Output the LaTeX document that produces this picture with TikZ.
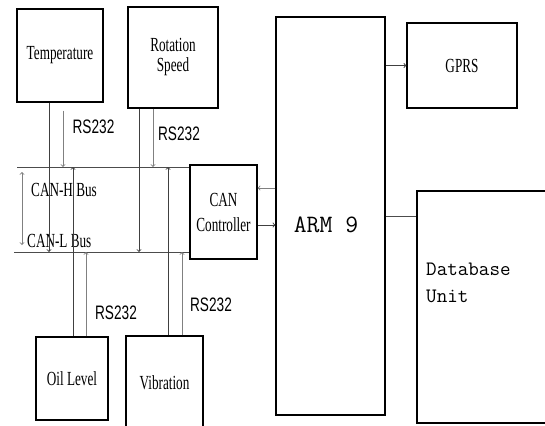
\documentclass[tikz,border=0pt]{standalone}
\usepackage{fontspec}
\setmainfont{Liberation Serif}
\newfontfamily\boxfont[FakeStretch=0.66]{Liberation Serif}
\newfontfamily\rsfont[FakeStretch=0.7]{Liberation Sans}

\begin{document}
\begin{tikzpicture}
[
	x=1pt,
	y=-1pt,
	box/.style={draw,line width=1.3pt,inner sep=0pt,align=center,font=\boxfont\fontsize{20}{20}\selectfont},
	bigtext/.style={inner sep=0pt,align=left,font=\ttfamily\fontsize{20.5}{27}\selectfont},
	rstext/.style={inner sep=0pt,font=\rsfont\fontsize{19.5}{19.5}\selectfont},
	bustext/.style={inner sep=0pt,anchor=west,font=\boxfont\fontsize{20}{17}\selectfont},
	bus/.style={black!70,line width=0.9pt},
	wire/.style={black!75,line width=0.9pt,->},
	rsline/.style={black!50,line width=0.9pt,->}
]

	\useasboundingbox (0,0) rectangle (545,425);

	% sensors
	\node[box,minimum width=86pt,minimum height=93pt] at (60,55.5) (temp) {Temperature};
	\node[box,minimum width=90pt,minimum height=101pt] at (173,57.5) (rot) {Rotation\\Speed};
	\node[box,minimum width=72pt,minimum height=83pt] at (72,378.5) (oil) {Oil Level};
	\node[box,minimum width=77pt,minimum height=94pt] at (164.5,383) (vib) {Vibration};

	% controller, processor, outputs
	\node[box,minimum width=67pt,minimum height=94pt,font=\boxfont\fontsize{20}{25}\selectfont] at (223.5,212) (canctl) {CAN\\Controller};
	\node[box,minimum width=109pt,minimum height=398pt] at (330.5,216) (arm) {};
	\node[bigtext,font=\ttfamily\fontsize{25}{25}\selectfont] at (326,225) (armlabel) {ARM 9};
	\node[box,minimum width=110pt,minimum height=85pt] at (462,65.5) (gprs) {GPRS};
	\node[box,minimum width=143pt,minimum height=232pt] at (488.5,307) (db) {};
	\node[bigtext,anchor=west] at (426,283) (dblabel) {Database\\Unit};

	% buses
	\coordinate (hbus) at (17,167);
	\coordinate (lbus) at (14,252);
	\draw[bus] (hbus) -- (canctl.west |- hbus);
	\draw[bus] (lbus) -- (canctl.west |- lbus);
	\coordinate (bustop) at (22,172);
	\coordinate (busbot) at (22,245);
	\draw[rsline,<->] (bustop) -- (busbot);
	\node[bustext] at (31,190) (hlabel) {CAN-H Bus};
	\node[bustext] at (27,241) (llabel) {CAN-L Bus};

	% sensor wires
	\draw[wire] ([xshift=-11pt]temp.south) -- ([xshift=-11pt]temp.south |- lbus);
	\draw[rsline] ([xshift=3pt,yshift=-8pt]temp.south) -- ([xshift=3pt]temp.south |- hbus);
	\draw[wire] ([xshift=-34pt]rot.south) -- ([xshift=-34pt]rot.south |- lbus);
	\draw[rsline] ([xshift=-20pt]rot.south) -- ([xshift=-20pt]rot.south |- hbus);
	\draw[wire] ([xshift=1pt]oil.north) -- ([xshift=1pt]oil.north |- hbus);
	\draw[rsline] ([xshift=14pt]oil.north) -- ([xshift=14pt]oil.north |- lbus);
	\draw[wire] ([xshift=3.5pt]vib.north) -- ([xshift=3.5pt]vib.north |- hbus);
	\draw[rsline] ([xshift=17.5pt]vib.north) -- ([xshift=17.5pt]vib.north |- lbus);

	\node[rstext] at (93.5,127) (rs1) {RS232};
	\node[rstext] at (179,134) (rs2) {RS232};
	\node[rstext] at (116,313) (rs3) {RS232};
	\node[rstext] at (211,305) (rs4) {RS232};

	% processor links
	\draw[rsline] ([yshift=28pt]arm.west) -- ([yshift=28pt]arm.west -| canctl.east);
	\draw[wire] ([yshift=-9pt]arm.west -| canctl.east) -- ([yshift=-9pt]arm.west);
	\draw[wire] (arm.east |- gprs.west) -- (gprs.west);
	\draw[bus] (arm.east) -- (arm.east -| db.west);

\end{tikzpicture}
\end{document}
